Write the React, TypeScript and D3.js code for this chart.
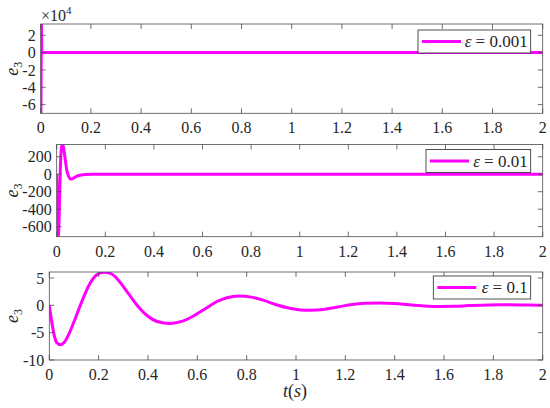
import React, { useEffect, useRef } from "react";
import * as d3 from "d3";

// ---- data ----
const X_TICKS = [0, 0.2, 0.4, 0.6, 0.8, 1, 1.2, 1.4, 1.6, 1.8, 2];

// panel 1 (eps = 0.001), values in units of 1e4
const T1 = [0, 0.0008, 0.0016, 0.0028, 0.004, 0.0055, 0.007, 0.01, 0.5, 1, 1.5, 2];
const E1 = [0, -7.1, -3.0, 3.4, 0.6, -0.1, 0.02, 0, 0, 0, 0, 0];
const Y1_TICKS = [-6, -4, -2, 0, 2];
const Y1_DOMAIN = [-7, 3.3];

// panel 2 (eps = 0.01)
const T2 = [0, 0.003, 0.006, 0.009, 0.012, 0.015, 0.018, 0.022, 0.026, 0.03, 0.036, 0.042, 0.05, 0.058, 0.066, 0.075, 0.085, 0.1, 0.12, 0.15, 0.5, 1, 1.5, 2];
const E2 = [0, -450, -715, -600, -250, 60, 260, 345, 330, 270, 150, 40, -30, -55, -50, -35, -20, -8, -2, 0, 0, 0, 0, 0];
const Y2_TICKS = [-600, -400, -200, 0, 200];
const Y2_DOMAIN = [-715, 340];

// panel 3 (eps = 0.1)
const T3 = [0, 0.01, 0.02, 0.03, 0.045, 0.06, 0.08, 0.1, 0.13, 0.16, 0.19, 0.22, 0.25, 0.28, 0.32, 0.36, 0.4, 0.44, 0.49, 0.54, 0.59, 0.64, 0.68, 0.72, 0.77, 0.82, 0.87, 0.92, 0.97, 1.02, 1.06, 1.11, 1.17, 1.22, 1.28, 1.34, 1.4, 1.46, 1.52, 1.58, 1.64, 1.7, 1.78, 1.86, 1.94, 2.0];
const E3 = [0, -3.0, -5.5, -6.8, -7.2, -6.8, -5.2, -3.0, 0.5, 3.6, 5.5, 6.05, 5.8, 4.6, 2.2, -0.2, -2.0, -3.0, -3.3, -2.9, -1.8, -0.4, 0.7, 1.4, 1.7, 1.5, 0.9, 0.1, -0.5, -0.85, -0.9, -0.75, -0.3, 0.1, 0.38, 0.45, 0.35, 0.1, -0.1, -0.2, -0.18, -0.05, 0.08, 0.1, 0.05, 0.0];
const Y3_TICKS = [-10, -5, 0, 5];
const Y3_DOMAIN = [-10, 6.1];

const LEGENDS = ["0.001", "0.01", "0.1"];

// ---- styles ----
const FONT = "Liberation Serif";
const AXIS = "#4d4d4d";
const TEXT = "#262626";
const MAGENTA = "#ff00ff";
const TICK_LEN = 5;
const RIGHT = 542.7;

const PANELS = [
  { id: "c1", left: 40.7, top: 24, bottom: 113.3, t: T1, v: E1, yDomain: Y1_DOMAIN, yTicks: Y1_TICKS, legend: LEGENDS[0], legendLeft: 418, legendTop: 30 },
  { id: "c2", left: 56.7, top: 144.5, bottom: 236.7, t: T2, v: E2, yDomain: Y2_DOMAIN, yTicks: Y2_TICKS, legend: LEGENDS[1], legendLeft: 426, legendTop: 149.5 },
  { id: "c3", left: 49.3, top: 272, bottom: 360, t: T3, v: E3, yDomain: Y3_DOMAIN, yTicks: Y3_TICKS, legend: LEGENDS[2], legendLeft: 433.3, legendTop: 276 },
];

export default function App() {
  const ref = useRef<SVGSVGElement>(null);
  useEffect(() => {
    const svg = d3.select(ref.current);
    svg.selectAll("*").remove();
    svg.append("rect").attr("width", 550).attr("height", 408).attr("fill", "#fff");

    PANELS.forEach((p) => {
      const x = d3.scaleLinear().domain([0, 2]).range([p.left, RIGHT]);
      const y = d3.scaleLinear().domain(p.yDomain).range([p.bottom, p.top]);
      const g = svg.append("g");
      g.append("clipPath").attr("id", p.id).append("rect")
        .attr("x", p.left).attr("y", p.top).attr("width", RIGHT - p.left).attr("height", p.bottom - p.top);
      const pts = p.t.map((tt, i) => [tt, p.v[i]] as [number, number]);
      const line = d3.line<[number, number]>().x((d) => x(d[0])).y((d) => y(d[1])).curve(d3.curveMonotoneX);
      g.append("path").attr("d", line(pts) || "").attr("fill", "none").attr("stroke", MAGENTA)
        .attr("stroke-width", 3).attr("stroke-linejoin", "round").attr("clip-path", `url(#${p.id})`);
      g.append("rect").attr("x", p.left).attr("y", p.top).attr("width", RIGHT - p.left).attr("height", p.bottom - p.top)
        .attr("fill", "none").attr("stroke", AXIS).attr("stroke-width", 0.8);
      X_TICKS.forEach((tk) => {
        g.append("line").attr("x1", x(tk)).attr("x2", x(tk)).attr("y1", p.bottom).attr("y2", p.bottom - TICK_LEN).attr("stroke", AXIS).attr("stroke-width", 0.8);
        g.append("line").attr("x1", x(tk)).attr("x2", x(tk)).attr("y1", p.top).attr("y2", p.top + TICK_LEN).attr("stroke", AXIS).attr("stroke-width", 0.8);
        g.append("text").attr("x", x(tk)).attr("y", p.bottom + 20).attr("text-anchor", "middle")
          .style("font-family", FONT).style("font-size", "16px").attr("fill", TEXT).text(String(tk));
      });
      p.yTicks.forEach((tk) => {
        g.append("line").attr("x1", p.left).attr("x2", p.left + TICK_LEN).attr("y1", y(tk)).attr("y2", y(tk)).attr("stroke", AXIS).attr("stroke-width", 0.8);
        g.append("line").attr("x1", RIGHT).attr("x2", RIGHT - TICK_LEN).attr("y1", y(tk)).attr("y2", y(tk)).attr("stroke", AXIS).attr("stroke-width", 0.8);
        g.append("text").attr("x", p.left - 5).attr("y", y(tk)).attr("dy", "0.35em").attr("text-anchor", "end")
          .style("font-family", FONT).style("font-size", "16px").attr("fill", TEXT).text(String(tk));
      });
      const yl = g.append("text").attr("transform", `translate(18,${(p.top + p.bottom) / 2}) rotate(-90)`)
        .attr("text-anchor", "middle").style("font-family", FONT).style("font-size", "18px").attr("fill", TEXT);
      yl.append("tspan").style("font-style", "italic").text("e");
      yl.append("tspan").style("font-size", "12px").attr("dy", 4).text("3");

      const legendRight = RIGHT - 12;
      const legendH = 23;
      g.append("rect").attr("x", p.legendLeft).attr("y", p.legendTop).attr("width", legendRight - p.legendLeft).attr("height", legendH)
        .attr("fill", "#fff").attr("stroke", TEXT).attr("stroke-width", 0.8);
      g.append("line").attr("x1", p.legendLeft + 4).attr("x2", p.legendLeft + 43)
        .attr("y1", p.legendTop + legendH / 2).attr("y2", p.legendTop + legendH / 2).attr("stroke", MAGENTA).attr("stroke-width", 3);
      const lt = g.append("text").attr("x", legendRight - 3).attr("y", p.legendTop + legendH / 2).attr("dy", "0.35em")
        .attr("text-anchor", "end").style("font-family", FONT).style("font-size", "17px").attr("fill", TEXT);
      lt.append("tspan").style("font-style", "italic").text("ε");
      lt.append("tspan").text(" = " + p.legend);
    });

    const m = svg.append("text").attr("x", 41).attr("y", 21).style("font-family", FONT).style("font-size", "16px").attr("fill", TEXT);
    m.append("tspan").text("×10");
    m.append("tspan").attr("dy", -7).style("font-size", "11px").text("4");

    const xl = svg.append("text").attr("x", 295).attr("y", 397).attr("text-anchor", "middle")
      .style("font-family", FONT).style("font-size", "18px").attr("fill", TEXT);
    xl.append("tspan").style("font-style", "italic").text("t");
    xl.append("tspan").text("(");
    xl.append("tspan").style("font-style", "italic").text("s");
    xl.append("tspan").text(")");
  }, []);

  return <svg ref={ref} width={550} height={408} style={{ position: "absolute", left: 0, top: 0 }} />;
}
